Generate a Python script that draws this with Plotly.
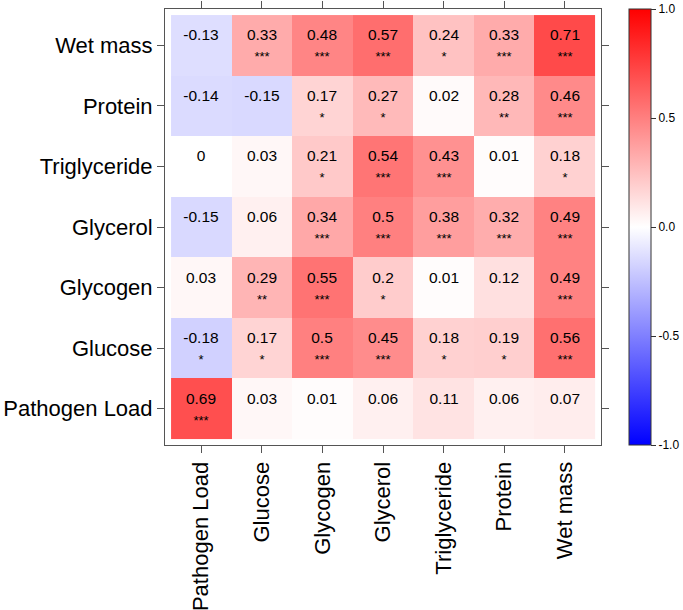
import plotly.graph_objects as go

# variables, bottom-to-top on y and left-to-right on x
labels = ['Pathogen Load', 'Glucose', 'Glycogen', 'Glycerol', 'Triglyceride', 'Protein', 'Wet mass']

# correlation rows (row order follows labels)
r_pathogen = [0.69, 0.03, 0.01, 0.06, 0.11, 0.06, 0.07]
r_glucose = [-0.18, 0.17, 0.5, 0.45, 0.18, 0.19, 0.56]
r_glycogen = [0.03, 0.29, 0.55, 0.2, 0.01, 0.12, 0.49]
r_glycerol = [-0.15, 0.06, 0.34, 0.5, 0.38, 0.32, 0.49]
r_trig = [0.0, 0.03, 0.21, 0.54, 0.43, 0.01, 0.18]
r_protein = [-0.14, -0.15, 0.17, 0.27, 0.02, 0.28, 0.46]
r_wetmass = [-0.13, 0.33, 0.48, 0.57, 0.24, 0.33, 0.71]

# significance stars
s_pathogen = ['***', '', '', '', '', '', '']
s_glucose = ['*', '*', '***', '***', '*', '*', '***']
s_glycogen = ['', '**', '***', '*', '', '', '***']
s_glycerol = ['', '', '***', '***', '***', '***', '***']
s_trig = ['', '', '*', '***', '***', '', '*']
s_protein = ['', '', '*', '*', '', '**', '***']
s_wetmass = ['', '***', '***', '***', '*', '***', '***']

cbar_ticks = [-1.0, -0.5, 0.0, 0.5, 1.0]

z = [r_pathogen, r_glucose, r_glycogen, r_glycerol, r_trig, r_protein, r_wetmass]
stars = [s_pathogen, s_glucose, s_glycogen, s_glycerol, s_trig, s_protein, s_wetmass]

text = []
for zr, sr in zip(z, stars):
    row = []
    for v, s in zip(zr, sr):
        row.append(f"{v:g}<br><span style='font-size:13px'>{s if s else '&nbsp;'}</span>")
    text.append(row)

idx = list(range(len(labels)))

fig = go.Figure(go.Heatmap(
    x=idx, y=idx, z=z,
    text=text, texttemplate='%{text}',
    textfont=dict(size=15.5, color='black', family='Liberation Sans, Arial'),
    colorscale=[[0, 'rgb(0,0,255)'], [0.5, 'rgb(255,255,255)'], [1, 'rgb(255,0,0)']],
    zmin=-1, zmax=1,
    colorbar=dict(
        x=1.064, xanchor='left', y=0.5, yanchor='middle',
        len=1, lenmode='fraction', thickness=22,
        xpad=0, ypad=0,
        outlinewidth=1, outlinecolor='#333',
        tickvals=cbar_ticks, ticktext=[f'{t:.1f}' for t in cbar_ticks],
        ticks='outside', ticklen=5, tickcolor='#333',
        tickfont=dict(size=12, color='black'),
    ),
))

axis_common = dict(
    range=[-0.6, 6.6], tickvals=idx, ticktext=labels,
    ticks='outside', ticklen=7, tickcolor='#555',
    showline=True, linecolor='#555', linewidth=1, mirror='ticks',
    showgrid=False, zeroline=False, fixedrange=True,
    tickfont=dict(size=22, color='black', family='Liberation Sans, Arial'),
)

fig.update_xaxes(**axis_common, tickangle=-90)
fig.update_yaxes(**axis_common)

fig.update_layout(
    width=683, height=610,
    margin=dict(l=165, r=82, t=9, b=165, autoexpand=False),
    paper_bgcolor='white', plot_bgcolor='white',
    font=dict(family='Liberation Sans, Arial'),
)

# drop the default body margin so the figure sits at the page corner
fig.write_html('out.html', config={'displayModeBar': False},
               post_script="document.body.style.margin='0';")
